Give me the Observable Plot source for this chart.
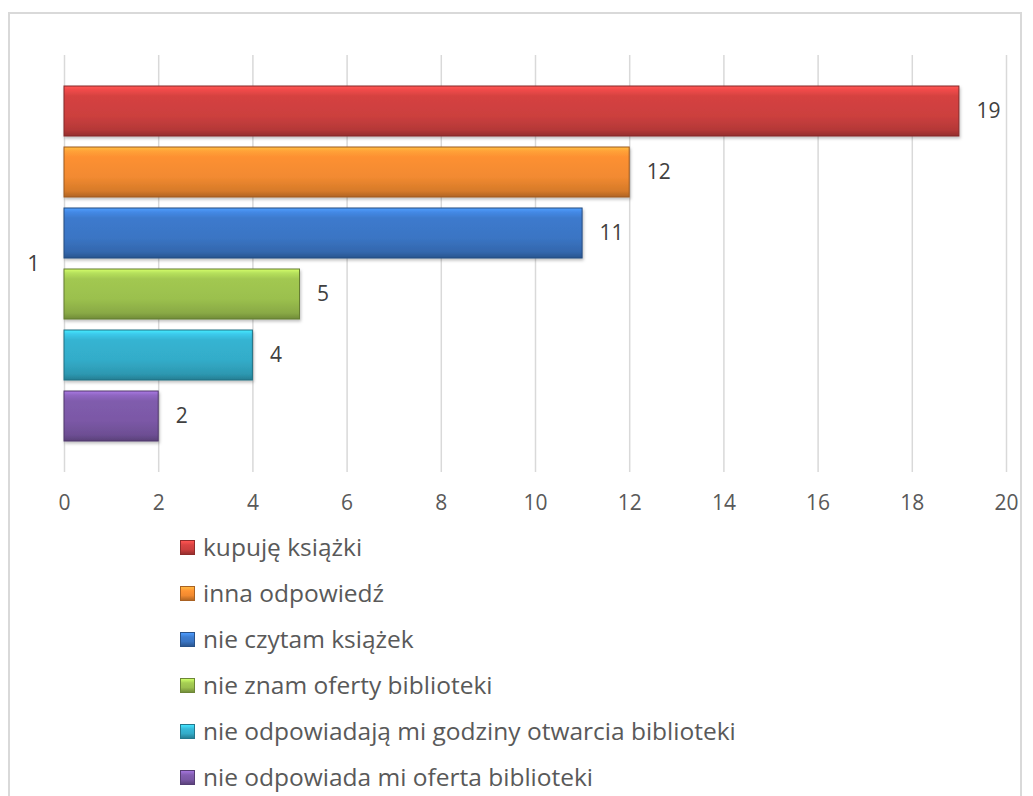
<!DOCTYPE html>
<html>
<head>
<meta charset="utf-8">
<script src="https://cdn.jsdelivr.net/npm/d3@7"></script>
<script src="https://cdn.jsdelivr.net/npm/@observablehq/plot@0.6"></script>
<style>
  html, body { margin: 0; padding: 0; background: #fff; overflow: hidden; }
  #wrap { position: relative; width: 1033px; height: 796px; font-family: "Open Sans", sans-serif; overflow: hidden; }
  #frame { position: absolute; left: 8px; top: 12px; width: 1014px; height: 820px; border: 2px solid #d9d9d9; box-sizing: border-box; }
  #chart { position: absolute; left: 0; top: 0; }
  #legend { position: absolute; left: 180px; top: 524px; }
  .item { height: 46px; display: flex; align-items: center; font-size: 24.5px; line-height: 1; color: #595959; white-space: nowrap; }
  .sw { width: 15px; height: 15px; margin-right: 8px; box-sizing: border-box; flex: none; }
</style>
</head>
<body>
<div id="wrap">
  <div id="frame"></div>
  <div id="chart"></div>
  <div id="legend"></div>
</div>
<script>
const categories = [
  "kupuję książki",
  "inna odpowiedź",
  "nie czytam książek",
  "nie znam oferty biblioteki",
  "nie odpowiadają mi godziny otwarcia biblioteki",
  "nie odpowiada mi oferta biblioteki"
];
const values = [19, 12, 11, 5, 4, 2];
const colors = ["#cc3f3e", "#f28a30", "#3a75c4", "#9bc04e", "#33acc9", "#7b58a6"];
const xTicks = [0, 2, 4, 6, 8, 10, 12, 14, 16, 18, 20];
const groupLabel = "1";

const data = categories.map((c, i) => ({category: c, value: values[i], idx: i}));

function shade(c, k) {
  const col = d3.color(c);
  return (k >= 0 ? col.brighter(k) : col.darker(-k)).formatHex();
}

const chart = Plot.plot({
  width: 1033,
  height: 520,
  marginLeft: 64,
  marginRight: 27,
  marginTop: 55,
  marginBottom: 48,
  style: {fontFamily: "'Open Sans', sans-serif", fontSize: "22px", color: "#595959", background: "transparent"},
  x: {domain: [0, 20], ticks: xTicks, label: null},
  y: {domain: categories, paddingInner: 0.188, paddingOuter: 0.479, axis: null},
  marks: [
    Plot.gridX(xTicks, {stroke: "#d9d9d9", strokeOpacity: 1, strokeWidth: 1.5}),
    Plot.axisX(xTicks, {tickSize: 0, tickPadding: 23, fontSize: 21, fill: "#595959", label: null}),
    Plot.barX(data, {
      x: "value",
      y: "category",
      fill: d => `url(#grad${d.idx})`,
      stroke: d => shade(colors[d.idx], -1.2),
      strokeWidth: 1
    }),
    Plot.text(data, {
      x: "value",
      y: "category",
      text: d => String(d.value),
      dx: 17,
      textAnchor: "start",
      fontSize: 21,
      fill: "#404040"
    }),
    Plot.text([groupLabel], {
      frameAnchor: "left",
      text: d => d,
      dx: -31,
      textAnchor: "middle",
      fontSize: 22,
      fill: "#404040"
    })
  ]
});

// gradient definitions for the bevelled bars
const svg = d3.select(chart);
const defs = svg.insert("defs", ":first-child");
colors.forEach((c, i) => {
  const g = defs.append("linearGradient")
    .attr("id", `grad${i}`)
    .attr("x1", 0).attr("y1", 0).attr("x2", 0).attr("y2", 1);
  [[0, shade(c, 0.9)], [0.08, shade(c, 0.45)], [0.2, shade(c, 0.12)], [0.6, c], [0.88, shade(c, -0.35)], [1, shade(c, -0.9)]]
    .forEach(([o, col]) => g.append("stop").attr("offset", o).attr("stop-color", col));
});
const filt = defs.append("filter").attr("id", "shadow").attr("x", "-5%").attr("y", "-20%").attr("width", "110%").attr("height", "150%");
filt.append("feDropShadow").attr("dx", 1).attr("dy", 2).attr("stdDeviation", 1.5).attr("flood-color", "#000").attr("flood-opacity", 0.25);
svg.selectAll("g[aria-label='bar'] rect").attr("filter", "url(#shadow)");

document.getElementById("chart").appendChild(chart);

// legend
const legend = d3.select("#legend");
categories.forEach((c, i) => {
  const item = legend.append("div").attr("class", "item");
  item.append("div").attr("class", "sw")
    .style("background", `linear-gradient(180deg, ${shade(colors[i], 0.8)} 0%, ${shade(colors[i], 0.2)} 30%, ${colors[i]} 65%, ${shade(colors[i], -0.8)} 100%)`)
    .style("border", `1px solid ${shade(colors[i], -1)}`);
  item.append("span").text(c);
});
</script>
</body>
</html>
